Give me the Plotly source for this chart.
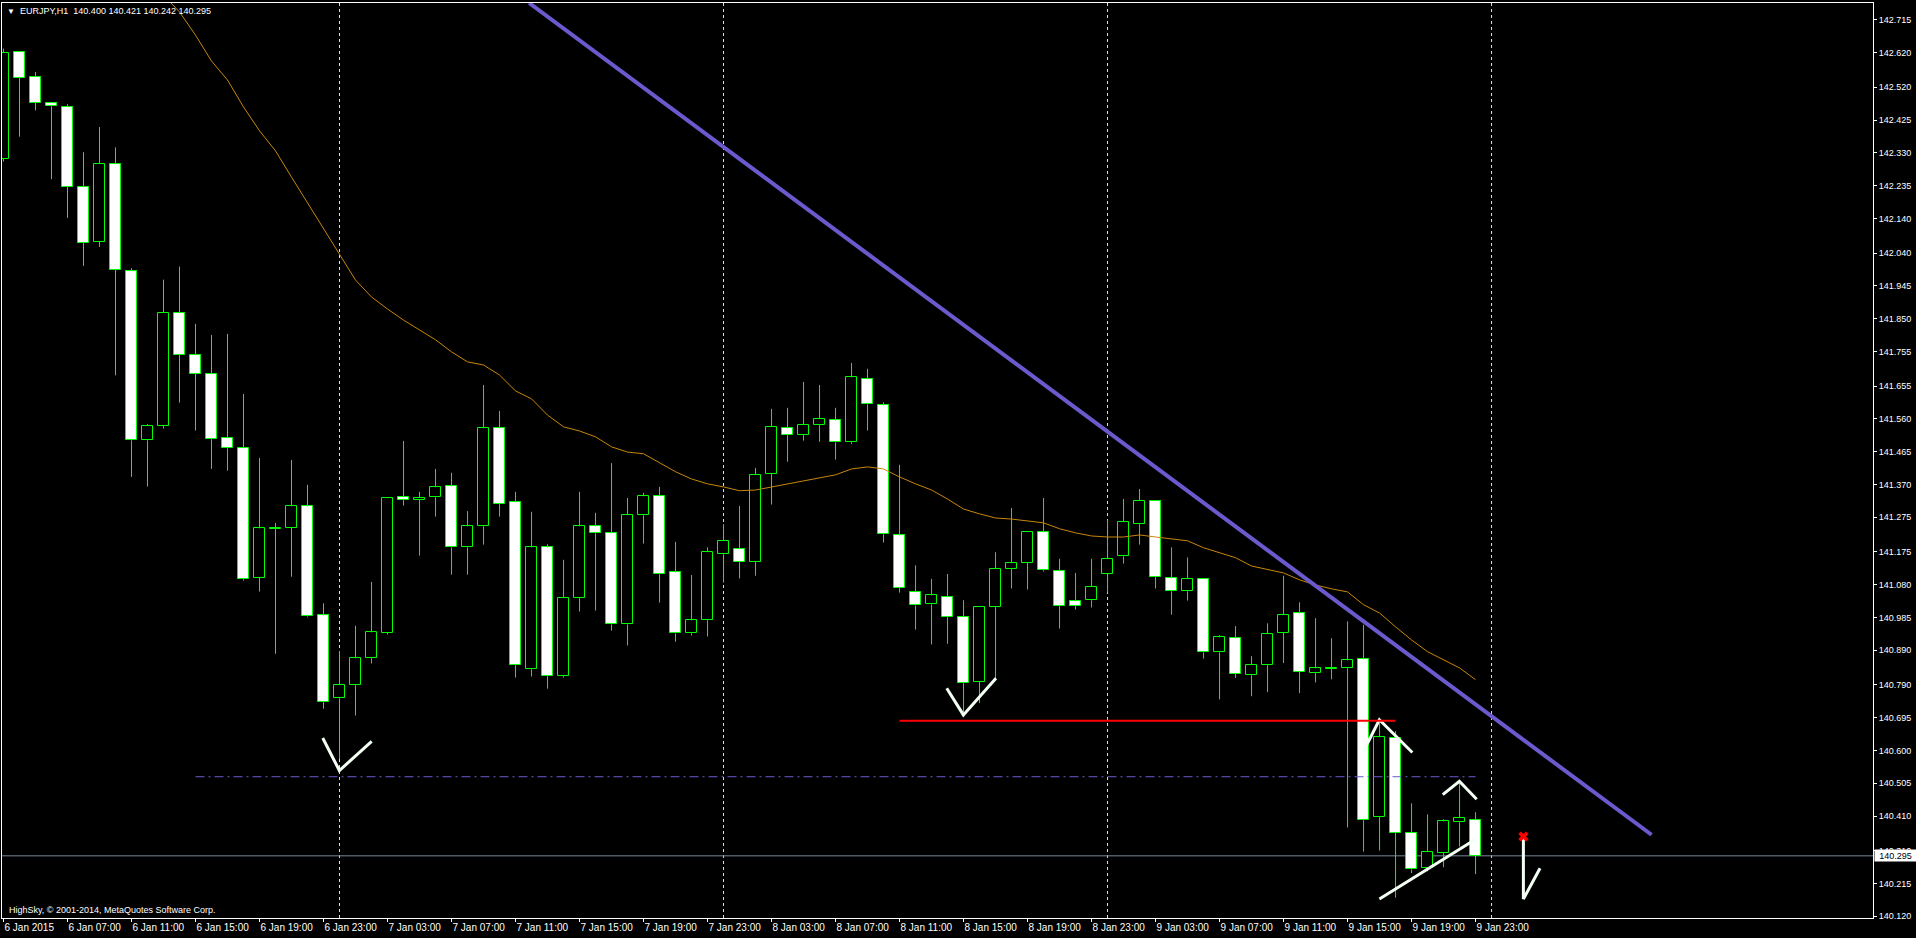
import plotly.graph_objects as go

# ---------------- data (EURJPY H1, 6 Jan 03:00 .. 9 Jan 23:00) ----------------
open_ = [142.313, 142.622, 142.550, 142.475, 142.464, 142.231, 142.073, 142.299, 141.988, 141.498,
         141.539, 141.867, 141.745, 141.690, 141.506, 141.475, 141.100, 141.241, 141.245, 141.307,
         140.991, 140.751, 140.789, 140.867, 140.941, 141.333, 141.325, 141.333, 141.365, 141.188,
         141.249, 141.533, 141.319, 140.835, 141.188, 140.815, 141.041, 141.249, 141.229, 140.965,
         141.281, 141.336, 141.116, 140.939, 140.977, 141.168, 141.183, 141.145, 141.400, 141.533,
         141.513, 141.542, 141.556, 141.492, 141.675, 141.599, 141.223, 141.058, 141.023, 141.044,
         140.986, 140.798, 141.015, 141.125, 141.144, 141.232, 141.119, 141.032, 141.035, 141.110,
         141.162, 141.255, 141.322, 141.099, 141.061, 141.096, 140.884, 140.925, 140.818, 140.847,
         140.940, 140.997, 140.824, 140.837, 140.838, 140.864, 140.407, 140.636, 140.361, 140.259,
         140.303, 140.392, 140.400]
high = [142.632, 142.625, 142.564, 142.477, 142.471, 142.332, 142.405, 142.346, 141.996, 141.545,
        141.963, 142.001, 141.835, 141.803, 141.806, 141.632, 141.447, 141.259, 141.441, 141.369,
        141.026, 140.888, 140.961, 141.088, 141.332, 141.496, 141.349, 141.415, 141.404, 141.293,
        141.658, 141.583, 141.349, 141.291, 141.197, 141.152, 141.349, 141.288, 141.432, 141.331,
        141.346, 141.363, 141.204, 141.108, 141.188, 141.255, 141.308, 141.418, 141.589, 141.592,
        141.667, 141.658, 141.592, 141.722, 141.705, 141.608, 141.427, 141.136, 141.097, 141.111,
        141.035, 141.015, 141.174, 141.302, 141.232, 141.331, 141.155, 141.114, 141.155, 141.268,
        141.328, 141.357, 141.325, 141.188, 141.159, 141.098, 140.934, 140.960, 140.873, 140.968,
        141.106, 141.029, 140.983, 140.925, 140.974, 140.964, 140.679, 140.656, 140.447, 140.415,
        140.401, 140.505, 140.421]
low = [142.305, 142.377, 142.453, 142.254, 142.142, 142.003, 142.058, 141.686, 141.392, 141.364,
       141.532, 141.607, 141.526, 141.415, 141.410, 141.092, 141.060, 140.880, 141.103, 140.985,
       140.721, 140.575, 140.701, 140.852, 140.936, 141.309, 141.164, 141.277, 141.109, 141.109,
       141.196, 141.277, 140.811, 140.814, 140.779, 140.811, 141.002, 141.005, 140.947, 140.904,
       141.199, 141.028, 140.915, 140.933, 140.930, 141.086, 141.098, 141.106, 141.312, 141.436,
       141.497, 141.494, 141.442, 141.487, 141.526, 141.202, 141.057, 140.950, 140.907, 140.909,
       140.710, 140.737, 140.809, 141.069, 141.066, 141.118, 140.953, 141.008, 141.014, 141.057,
       141.141, 141.196, 141.069, 140.993, 141.034, 140.866, 140.748, 140.810, 140.757, 140.769,
       140.853, 140.766, 140.797, 140.806, 140.377, 140.307, 140.310, 140.174, 140.245, 140.250,
       140.262, 140.322, 140.242]
close = [142.619, 142.548, 142.475, 142.465, 142.232, 142.070, 142.299, 141.991, 141.498, 141.539,
         141.867, 141.745, 141.690, 141.501, 141.475, 141.096, 141.243, 141.245, 141.307, 140.988,
         140.740, 140.789, 140.867, 140.942, 141.330, 141.325, 141.331, 141.362, 141.188, 141.249,
         141.533, 141.313, 140.847, 141.188, 140.815, 141.041, 141.249, 141.229, 140.965, 141.281,
         141.336, 141.110, 140.939, 140.977, 141.174, 141.206, 141.145, 141.397, 141.536, 141.513,
         141.542, 141.559, 141.492, 141.680, 141.602, 141.226, 141.070, 141.020, 141.049, 140.986,
         140.795, 141.015, 141.125, 141.142, 141.232, 141.122, 141.018, 141.018, 141.073, 141.154,
         141.261, 141.322, 141.102, 141.061, 141.096, 140.884, 140.928, 140.821, 140.847, 140.937,
         140.992, 140.827, 140.838, 140.838, 140.861, 140.398, 140.638, 140.361, 140.256, 140.306,
         140.395, 140.404, 140.295]

# moving average (orange line), None where it is above the visible window
ma = [None] * 10 + [
    142.787, 142.738, 142.671, 142.596, 142.541, 142.463, 142.394, 142.336, 142.260, 142.185,
    142.113, 142.035, 141.962, 141.913, 141.878, 141.846, 141.818, 141.789, 141.754, 141.725,
    141.716, 141.687, 141.641, 141.618, 141.571, 141.537, 141.525, 141.508, 141.479, 141.464,
    141.459, 141.433, 141.407, 141.386, 141.372, 141.363, 141.352, 141.354, 141.363, 141.372,
    141.380, 141.389, 141.398, 141.415, 141.421, 141.415, 141.392, 141.372, 141.354, 141.328,
    141.299, 141.285, 141.273, 141.270, 141.265, 141.259, 141.242, 141.230, 141.221, 141.218,
    141.218, 141.224, 141.218, 141.213, 141.207, 141.187, 141.172, 141.158, 141.134, 141.123,
    141.114, 141.094, 141.079, 141.068, 141.059, 141.022, 140.998, 140.958, 140.920, 140.886,
    140.862, 140.839, 140.805]

x_tick_bars = [0, 4, 8, 12, 16, 20, 24, 28, 32, 36, 40, 44, 48, 52, 56, 60, 64, 68, 72, 76, 80, 84, 88, 92]
x_tick_labels = ["6 Jan 2015", "6 Jan 07:00", "6 Jan 11:00", "6 Jan 15:00", "6 Jan 19:00", "6 Jan 23:00",
                 "7 Jan 03:00", "7 Jan 07:00", "7 Jan 11:00", "7 Jan 15:00", "7 Jan 19:00", "7 Jan 23:00",
                 "8 Jan 03:00", "8 Jan 07:00", "8 Jan 11:00", "8 Jan 15:00", "8 Jan 19:00", "8 Jan 23:00",
                 "9 Jan 03:00", "9 Jan 07:00", "9 Jan 11:00", "9 Jan 15:00", "9 Jan 19:00", "9 Jan 23:00"]
y_tick_labels = ["142.715", "142.620", "142.520", "142.425", "142.330", "142.235", "142.140", "142.040",
                 "141.945", "141.850", "141.755", "141.655", "141.560", "141.465", "141.370", "141.275",
                 "141.175", "141.080", "140.985", "140.890", "140.790", "140.695", "140.600", "140.505",
                 "140.410", "140.310", "140.215", "140.120"]

day_separators = [21, 45, 69, 93]
bid_price = 140.295
title_text = "EURJPY,H1\u00a0\u00a0140.400 140.421 140.242 140.295"
copyright_text = "HighSky, \u00a9 2001-2014, MetaQuotes Software Corp."

# drawing objects (bar index, price)
trend_x = [32.85, 103.0]
trend_y = [142.764, 140.356]
red_level_x = [56, 87]
red_level_y = 140.686
dashdot_x = [12, 92]
dashdot_y = 140.524
white_marks = [
    ([19.95, 20.99, 23.01], [140.636, 140.542, 140.626]),
    ([58.95, 59.99, 62.03], [140.780, 140.703, 140.809]),
    ([84.99, 85.99, 88.05], [140.597, 140.689, 140.594]),
    ([89.95, 90.99, 92.07], [140.472, 140.511, 140.459]),
    ([85.99, 92.03], [140.170, 140.344]),
    ([94.99, 94.99, 96.03], [140.356, 140.170, 140.259]),
]
cross_x = [94.99]
cross_y = [140.351]

# ---------------- figure ----------------
LIME = "#00FF00"
FONT = "Liberation Sans"
n = len(open_)
xs = list(range(n))

fig = go.Figure()

# wicks (upper and lower parts so they don't cross the bodies)
wx, wy = [], []
for i in xs:
    top = max(open_[i], close[i])
    bot = min(open_[i], close[i])
    wx += [i, i, None, i, i, None]
    wy += [high[i], top, None, bot, low[i], None]
fig.add_trace(go.Scatter(x=wx, y=wy, mode="lines", line=dict(color=LIME, width=1),
                         hoverinfo="skip"))

# bodies
base = [min(o, c) for o, c in zip(open_, close)]
height = [max(abs(c - o), 0.0015) for o, c in zip(open_, close)]
fill = ["black" if c > o else "white" for o, c in zip(open_, close)]
fig.add_trace(go.Bar(x=xs, y=height, base=base, width=0.66,
                     marker=dict(color=fill, line=dict(color=LIME, width=1)),
                     hoverinfo="skip"))

# moving average
fig.add_trace(go.Scatter(x=xs, y=ma, mode="lines", line=dict(color="#C8860A", width=1),
                         hoverinfo="skip", connectgaps=False))

# trendline
fig.add_trace(go.Scatter(x=trend_x, y=trend_y, mode="lines",
                         line=dict(color="#6A5ACD", width=4), hoverinfo="skip"))

# white hand drawings
mx, my = [], []
for xx, yy in white_marks:
    mx += xx + [None]
    my += yy + [None]
fig.add_trace(go.Scatter(x=mx, y=my, mode="lines", line=dict(color="#F2FFF2", width=3),
                         hoverinfo="skip"))
fig.add_trace(go.Scatter(x=cross_x, y=cross_y, mode="markers",
                         marker=dict(symbol="x", color="red", size=9, line=dict(width=0)),
                         hoverinfo="skip"))

shapes = []
for b in day_separators:
    shapes.append(dict(type="line", xref="x", yref="paper", x0=b, x1=b, y0=0, y1=1,
                       line=dict(color="#E0E0E0", width=1, dash="3px,3px"), layer="below"))
shapes.append(dict(type="line", xref="paper", yref="y", x0=0, x1=1, y0=bid_price, y1=bid_price,
                   line=dict(color="#778899", width=1), layer="below"))
shapes.append(dict(type="line", xref="x", yref="y", x0=red_level_x[0], x1=red_level_x[1],
                   y0=red_level_y, y1=red_level_y, line=dict(color="#FF0000", width=2)))
shapes.append(dict(type="line", xref="x", yref="y", x0=dashdot_x[0], x1=dashdot_x[1],
                   y0=dashdot_y, y1=dashdot_y,
                   line=dict(color="#6A5ACD", width=1, dash="9px,4px,2px,4px")))

annotations = [
    dict(text="\u25BC", xref="paper", yref="paper", x=0, y=1, xanchor="left", yanchor="middle",
         xshift=3, yshift=-8, showarrow=False, font=dict(color="white", size=8, family=FONT)),
    dict(text=title_text, xref="paper", yref="paper", x=0, y=1, xanchor="left", yanchor="middle",
         xshift=16, yshift=-8, showarrow=False, font=dict(color="white", size=9, family=FONT)),
    dict(text=copyright_text, xref="paper", yref="paper", x=0, y=0, xanchor="left", yanchor="middle",
         xshift=5, yshift=8, showarrow=False, font=dict(color="white", size=9, family=FONT)),
    dict(text="140.295", xref="paper", yref="y", x=1, y=bid_price, xanchor="left", yanchor="middle",
         xshift=1, showarrow=False, bgcolor="white", width=41, height=11, borderpad=0,
         font=dict(color="black", size=9, family=FONT)),
]

fig.update_layout(
    width=1916, height=938,
    margin=dict(l=2, r=43, t=3, b=20),
    paper_bgcolor="black", plot_bgcolor="black",
    showlegend=False, hovermode=False, bargap=0,
    shapes=shapes, annotations=annotations,
    xaxis=dict(range=[-0.094, 116.84], showgrid=False, zeroline=False,
               showline=True, linecolor="white", linewidth=1, mirror=True,
               tickmode="array", tickvals=x_tick_bars, ticktext=x_tick_labels,
               ticks="outside", ticklen=3, tickcolor="white", tickwidth=1,
               ticklabelposition="outside right", tickangle=0,
               tickfont=dict(color="white", size=10, family=FONT)),
    yaxis=dict(range=[140.115, 142.764], side="right", showgrid=False, zeroline=False,
               showline=True, linecolor="white", linewidth=1, mirror=True,
               tickmode="array", tickvals=[float(t) for t in y_tick_labels], ticktext=y_tick_labels,
               ticks="outside", ticklen=3, tickcolor="white", tickwidth=1,
               tickfont=dict(color="white", size=9, family=FONT)),
)

fig.write_html("out.html", config={"displayModeBar": False},
               post_script="document.body.style.margin='0';document.body.style.overflow='hidden';")
